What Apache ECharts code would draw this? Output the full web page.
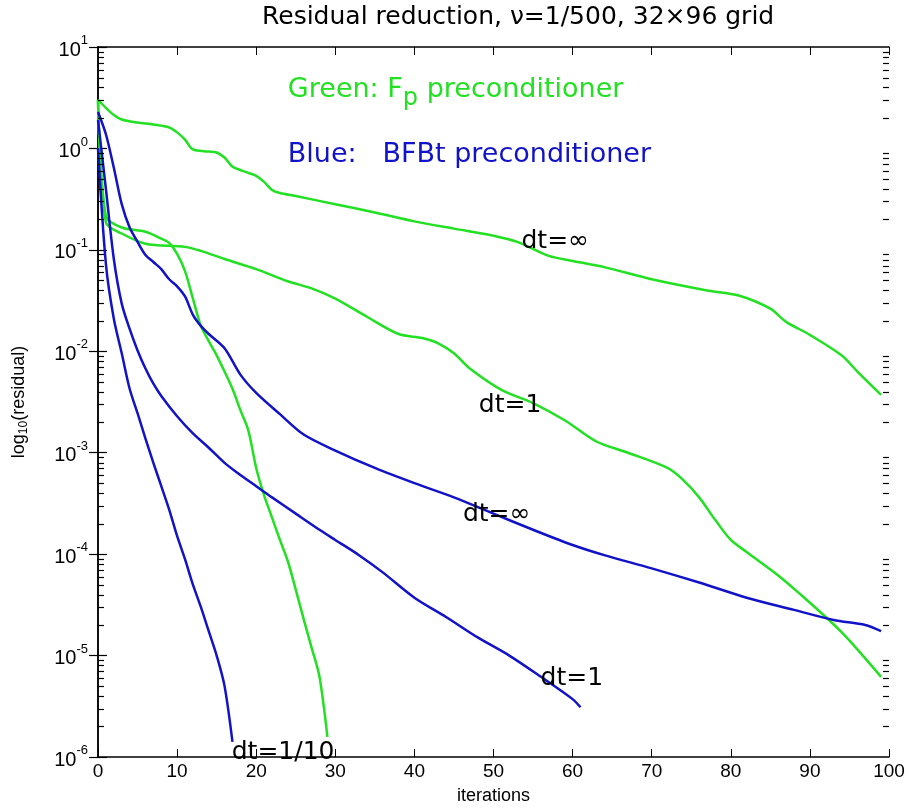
<!DOCTYPE html>
<html><head><meta charset="utf-8">
<script src="https://cdn.jsdelivr.net/npm/echarts@6/dist/echarts.min.js"></script>
<style>html,body{margin:0;padding:0;background:#fff}#c{width:909px;height:810px}</style>
</head><body><div id="c"></div>
<script>
// ---------------- data ----------------
const fpInfIt  = [0,1,2,3,5,7,9,10,11,12,14,15,16,17,19,20,21,22,23,25,30,35,40,45,50,53,57,60,64,70,77,81,85,87,90,94,96,99];
const fpInfVal = [3.02,2.51,2.14,1.93,1.80,1.72,1.61,1.44,1.22,0.977,0.933,0.912,0.813,0.661,0.575,0.537,0.468,0.389,0.363,0.339,0.282,0.234,0.191,0.162,0.138,0.120,0.0871,0.0776,0.0676,0.0513,0.0398,0.0355,0.0263,0.0195,0.0145,9.12e-3,6.31e-3,3.72e-3];

const fp1It  = [0,1,3,6,11,13,16,20,24,27,30,34,38,41,43,45,47,51,55,59,63,67,72,74,76,78,80,82,86,89,92,94,96,99];
const fp1Val = [3.02,0.186,0.145,0.115,0.107,0.0977,0.0813,0.0646,0.0490,0.0417,0.0331,0.0219,0.0148,0.0135,0.0120,9.55e-3,6.76e-3,4.17e-3,3.09e-3,2.09e-3,1.29e-3,1.0e-3,7.08e-4,5.37e-4,3.63e-4,2.19e-4,1.38e-4,1.05e-4,6.17e-5,3.89e-5,2.40e-5,1.70e-5,1.15e-5,6.17e-6];

const fp10It  = [0,1,3,6,8,9,10,11,12,13,14,15,16,17,18,19,20,21,22,23,24,25,26,27,28,29];
const fp10Val = [3.02,0.214,0.166,0.151,0.129,0.117,0.0912,0.0617,0.0331,0.0178,0.0126,9.12e-3,6.31e-3,4.27e-3,2.63e-3,1.66e-3,7.08e-4,3.80e-4,2.29e-4,1.38e-4,8.51e-5,4.47e-5,2.29e-5,1.20e-5,6.17e-6,1.58e-6];

const bfInfIt  = [0,1,2,3,4,5,6,7,8,9,10,11,12,13,14,16,18,20,23,26,30,35,40,45,50,55,60,64,70,76,82,88,93,97,99];
const bfInfVal = [2.29,1.38,0.646,0.282,0.166,0.120,0.0891,0.0759,0.0646,0.0513,0.0437,0.0347,0.0229,0.0178,0.0148,0.0107,5.89e-3,3.89e-3,2.40e-3,1.51e-3,1.05e-3,7.08e-4,5.01e-4,3.63e-4,2.51e-4,1.74e-4,1.23e-4,9.77e-5,7.24e-5,5.25e-5,3.72e-5,2.82e-5,2.24e-5,2.0e-5,1.74e-5];

const bf1It  = [0,1,2,3,4,5,6,7,8,10,12,14,16,18,20,22,25,28,30,33,36,40,44,48,52,56,60,61];
const bf1Val = [1.9,0.398,0.0813,0.0295,0.0166,0.0102,6.76e-3,4.79e-3,3.63e-3,2.29e-3,1.55e-3,1.12e-3,7.94e-4,6.03e-4,4.68e-4,3.63e-4,2.51e-4,1.74e-4,1.38e-4,9.77e-5,6.61e-5,3.72e-5,2.40e-5,1.51e-5,1.0e-5,6.17e-6,3.72e-6,3.09e-6];

const bf10It  = [0,1,2,3,4,5,6,7,8,9,10,11,12,13,14,15,16,17];
const bf10Val = [1.0,0.0724,0.0209,9.55e-3,4.27e-3,2.45e-3,1.38e-3,7.94e-4,4.68e-4,2.75e-4,1.51e-4,8.91e-5,5.01e-5,3.02e-5,1.74e-5,1.0e-5,5.0e-6,1.41e-6];

const xTicks = [0,10,20,30,40,50,60,70,80,90,100];
const yExpMin = -6, yExpMax = 1;
const minorMultipliers = [2,3,4,5,6,7,8,9];

const noteTexts = ['dt=\u221e','dt=1','dt=\u221e','dt=1/10','dt=1'];
const noteX     = [57.8, 52.1, 50.4, 23.4, 59.9];
const noteY     = [0.12, 2.9e-3, 2.45e-4, 1.1e-6, 6.0e-6];

const titleText = 'Residual reduction, \u03bd=1/500, 32\u00d796 grid';
// ---------------------------------------------------------------

const GREEN = '#22e022', BLUE = '#1212c8';
const FONT = '"Liberation Sans", Arial, sans-serif';
const WFONT = '"DejaVu Sans", sans-serif';
const zip = (a, b) => a.map((x, i) => [x, b[i]]);

function lineSeries(name, it, val, color) {
  return { name, type: 'line', data: zip(it, val), showSymbol: false, smooth: 0.3,
    lineStyle: { color, width: 2.5, join: 'round' }, itemStyle: { color }, silent: true, z: 3 };
}

const minorVals = [];
for (let e = yExpMin; e < yExpMax; e++) minorMultipliers.forEach(m => minorVals.push([0, m * Math.pow(10, e)]));

const chart = echarts.init(document.getElementById('c'), null, { renderer: 'canvas' });
chart.setOption({
  backgroundColor: '#fff',
  animation: false,
  title: { text: titleText, left: 262, top: 5, padding: 0,
    textStyle: { fontFamily: WFONT, fontSize: 25, fontWeight: 'normal', color: '#000' } },
  grid: { left: 98, right: 20, top: 47, bottom: 50, show: false },
  xAxis: [{
    type: 'value', min: xTicks[0], max: xTicks[xTicks.length - 1], interval: 10,
    name: 'iterations', nameLocation: 'middle', nameGap: 30,
    nameTextStyle: { fontFamily: FONT, fontSize: 18, color: '#000' },
    axisLine: { lineStyle: { color: '#000', width: 1.5 } },
    axisTick: { inside: true, length: 8, lineStyle: { color: '#000' } },
    axisLabel: { fontFamily: FONT, fontSize: 19, color: '#000', margin: 5 },
    splitLine: { show: false }
  }, {
    type: 'value', position: 'top', min: 0, max: 100, interval: 10,
    axisLine: { onZero: false, lineStyle: { color: '#000', width: 1.5 } },
    axisTick: { inside: true, length: 8, lineStyle: { color: '#000' } },
    axisLabel: { show: false }, splitLine: { show: false }
  }],
  yAxis: [{
    type: 'log', logBase: 10, min: Math.pow(10, yExpMin), max: Math.pow(10, yExpMax), interval: 1,
    name: 'log{s|10}(residual)', nameLocation: 'middle', nameGap: 68, nameRotate: 90,
    nameTextStyle: { fontFamily: FONT, fontSize: 18, color: '#000', lineHeight: 22,
      rich: { s: { fontFamily: FONT, fontSize: 12, color: '#000', lineHeight: 8, verticalAlign: 'bottom' } } },
    axisLine: { lineStyle: { color: '#000', width: 1.5 } },
    axisTick: { inside: true, length: 9, lineStyle: { color: '#000', width: 1.2 } },
    axisLabel: {
      margin: 10, fontFamily: FONT, color: '#000',
      formatter: v => '{b|10}{e|' + Math.round(Math.log10(v)) + '}',
      rich: {
        b: { fontFamily: FONT, fontSize: 20, color: '#000', lineHeight: 26, verticalAlign: 'bottom' },
        e: { fontFamily: FONT, fontSize: 13, color: '#000', lineHeight: 12, verticalAlign: 'top' }
      }
    },
    splitLine: { show: false }
  }, {
    type: 'log', logBase: 10, position: 'right', min: Math.pow(10, yExpMin), max: Math.pow(10, yExpMax), interval: 1,
    axisLine: { lineStyle: { color: '#000', width: 1.5 } },
    axisTick: { inside: true, length: 9, lineStyle: { color: '#000', width: 1.2 } },
    axisLabel: { show: false }, splitLine: { show: false }
  }],
  series: [
    lineSeries('Fp dt=inf', fpInfIt, fpInfVal, GREEN),
    lineSeries('Fp dt=1', fp1It, fp1Val, GREEN),
    lineSeries('Fp dt=1/10', fp10It, fp10Val, GREEN),
    lineSeries('BFBt dt=inf', bfInfIt, bfInfVal, BLUE),
    lineSeries('BFBt dt=1', bf1It, bf1Val, BLUE),
    lineSeries('BFBt dt=1/10', bf10It, bf10Val, BLUE),
    {
      // natural log-axis minor ticks on the left and right frame
      type: 'custom', silent: true, z: 6, clip: false,
      data: minorVals,
      renderItem: (params, api) => {
        const p = api.coord([0, api.value(1)]);
        const cs = params.coordSys;
        const y = Math.round(p[1]) + 0.5;
        const st = { stroke: '#000', lineWidth: 1.2 };
        return { type: 'group', children: [
          { type: 'line', shape: { x1: cs.x, y1: y, x2: cs.x + 6, y2: y }, style: st },
          { type: 'line', shape: { x1: cs.x + cs.width, y1: y, x2: cs.x + cs.width - 6, y2: y }, style: st }
        ] };
      }
    },
    {
      type: 'scatter', symbolSize: 0, silent: true, z: 5,
      itemStyle: { opacity: 1 },
      data: noteTexts.map((t, i) => ({ value: [noteX[i], noteY[i]], label: { formatter: t } })),
      label: { show: true, position: 'inside', fontFamily: WFONT, fontSize: 25, color: '#000',
        textBorderWidth: 0, opacity: 1 }
    },
    {
      type: 'scatter', symbolSize: 0, silent: true, z: 5,
      itemStyle: { opacity: 1 },
      data: [
        { value: [24.0, 3.8], label: { formatter: '{g|Green: F}{p|p}{g| preconditioner}' } },
        { value: [24.0, 0.87], label: { formatter: '{c|Blue:   BFBt preconditioner}' } }
      ],
      label: { show: true, position: 'right', distance: 0, fontFamily: WFONT, opacity: 1,
        textBorderWidth: 0,
        rich: {
          g: { fontFamily: WFONT, fontSize: 27, color: GREEN, lineHeight: 30 },
          p: { fontFamily: WFONT, fontSize: 24, color: GREEN, lineHeight: 30, padding: [18, 0, 0, 0] },
          c: { fontFamily: WFONT, fontSize: 27, color: BLUE, lineHeight: 30 }
        } }
    }
  ]
});
</script>
</body></html>
